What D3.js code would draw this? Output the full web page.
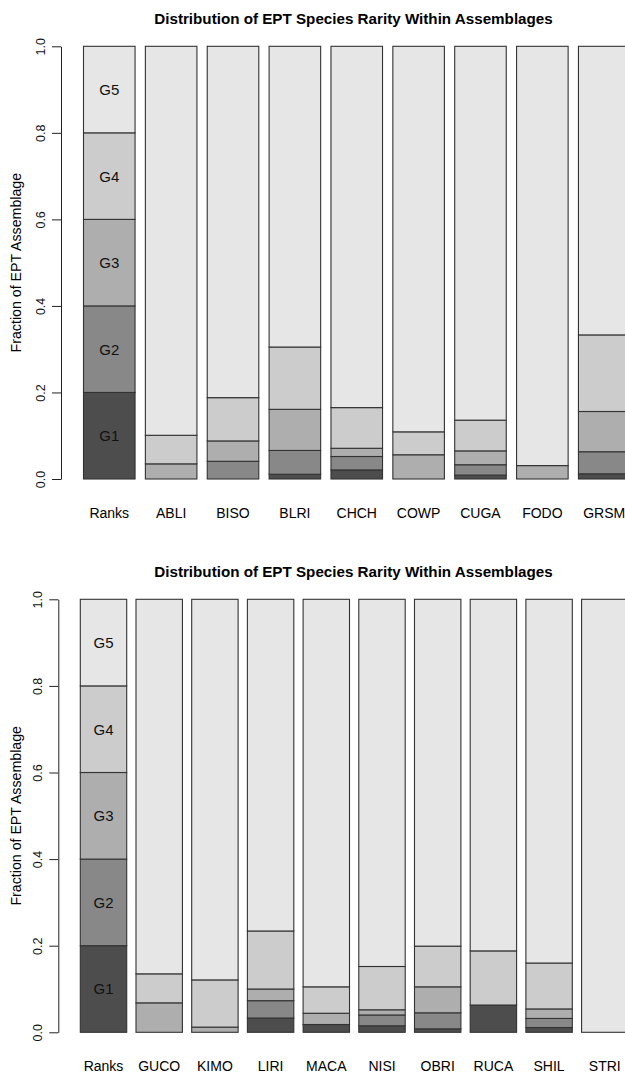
<!DOCTYPE html>
<html>
<head>
<meta charset="utf-8">
<script src="https://cdn.jsdelivr.net/npm/d3@7"></script>
<style>
  body { margin: 0; background: #fff; }
  svg { display: block; }
  text { font-family: "Liberation Sans", Arial, sans-serif; fill: #000; }
</style>
</head>
<body>
<div id="chart"></div>
<script>
var ranks = ["G1", "G2", "G3", "G4", "G5"];
var rankColors = ["#4d4d4d", "#888888", "#aeaeae", "#cccccc", "#e6e6e6"];

// first panel
var sitesA = ["Ranks", "ABLI", "BISO", "BLRI", "CHCH", "COWP", "CUGA", "FODO", "GRSM"];
var g1A = [0.2, 0,     0,     0.011, 0.021, 0,     0.009, 0,     0.012];
var g2A = [0.2, 0,     0.041, 0.055, 0.031, 0,     0.024, 0,     0.051];
var g3A = [0.2, 0.035, 0.047, 0.095, 0.019, 0.056, 0.032, 0.031, 0.093];
var g4A = [0.2, 0.066, 0.100, 0.144, 0.094, 0.053, 0.071, 0,     0.177];
var g5A = [0.2, 0.899, 0.812, 0.695, 0.835, 0.891, 0.864, 0.969, 0.667];

// second panel
var sitesB = ["Ranks", "GUCO", "KIMO", "LIRI", "MACA", "NISI", "OBRI", "RUCA", "SHIL", "STRI"];
var g1B = [0.2, 0,     0,     0.033, 0.018, 0.015, 0.008, 0.063, 0.011, 0];
var g2B = [0.2, 0,     0,     0.040, 0,     0.025, 0.037, 0,     0.021, 0];
var g3B = [0.2, 0.068, 0.012, 0.027, 0.026, 0.012, 0.060, 0,     0.022, 0];
var g4B = [0.2, 0.067, 0.109, 0.134, 0.061, 0.100, 0.094, 0.125, 0.106, 0];
var g5B = [0.2, 0.865, 0.879, 0.766, 0.895, 0.848, 0.801, 0.812, 0.840, 1];

var yTicks = [0, 0.2, 0.4, 0.6, 0.8, 1.0];
var titleText = "Distribution of EPT Species Rarity Within Assemblages";
var yLabel = "Fraction of EPT Assemblage";

var W = 625, H = 1073;

var svg = d3.select("#chart").append("svg")
    .attr("width", W)
    .attr("height", H);

function makeRows(sites, cols) {
  return sites.map(function(s, i) {
    var row = { site: s };
    ranks.forEach(function(r, k) { row[r] = cols[k][i]; });
    return row;
  });
}

function drawPanel(opt) {
  var rows = makeRows(opt.sites, opt.cols);
  var g = svg.append("g");

  var x = d3.scaleBand()
      .domain(opt.sites)
      .range([opt.x0, opt.x1])
      .paddingInner(1 / 6)
      .paddingOuter(0);

  var y = d3.scaleLinear()
      .domain([0, 1])
      .range([opt.yBottom, opt.yTop]);

  var stacked = d3.stack().keys(ranks)(rows);

  var layer = g.selectAll("g.layer")
      .data(stacked)
    .enter().append("g")
      .attr("class", "layer")
      .attr("fill", function(d, i) { return rankColors[i]; });

  layer.selectAll("rect")
      .data(function(d) { return d; })
    .enter().append("rect")
      .attr("x", function(d) { return x(d.data.site); })
      .attr("width", x.bandwidth())
      .attr("y", function(d) { return y(d[1]); })
      .attr("height", function(d) { return y(d[0]) - y(d[1]); })
      .attr("stroke", "#333")
      .attr("stroke-width", 1.1);

  // rank names inside the reference bar
  g.selectAll("text.rank")
      .data(stacked)
    .enter().append("text")
      .attr("class", "rank")
      .attr("x", x("Ranks") + x.bandwidth() / 2)
      .attr("y", function(d) { return y((d[0][0] + d[0][1]) / 2); })
      .attr("dy", "0.36em")
      .attr("text-anchor", "middle")
      .style("font-size", "15px")
      .style("fill", "#111")
      .text(function(d) { return d.key; });

  // y axis, R style
  var axis = d3.axisLeft(y)
      .tickValues(yTicks)
      .tickFormat(d3.format(".1f"))
      .tickSize(9)
      .tickSizeOuter(0);

  var ax = g.append("g")
      .attr("transform", "translate(" + opt.axisX + ",0)")
      .call(axis);
  ax.select(".domain").attr("stroke", "#222");
  ax.selectAll(".tick line").attr("stroke", "#222");
  ax.selectAll(".tick text")
      .attr("transform", "rotate(-90)")
      .attr("x", 0)
      .attr("y", -21)
      .attr("dy", "0.36em")
      .attr("text-anchor", "middle")
      .style("font-size", "12.5px")
      .style("font-family", "'Liberation Sans', Arial, sans-serif")
      .style("fill", "#111");

  // x labels
  g.selectAll("text.site")
      .data(opt.sites)
    .enter().append("text")
      .attr("class", "site")
      .attr("x", function(d) { return x(d) + x.bandwidth() / 2; })
      .attr("y", opt.labelY)
      .attr("text-anchor", "middle")
      .style("font-size", "14px")
      .text(function(d) { return d; });

  g.append("text")
      .attr("transform", "translate(16.5," + ((opt.yTop + opt.yBottom) / 2) + ") rotate(-90)")
      .attr("dy", "0.35em")
      .attr("text-anchor", "middle")
      .style("font-size", "14.2px")
      .text(yLabel);

  g.append("text")
      .attr("x", 353.5)
      .attr("y", opt.titleY)
      .attr("text-anchor", "middle")
      .style("font-size", "15.2px")
      .style("font-weight", "bold")
      .text(titleText);
}

drawPanel({
  sites: sitesA,
  cols: [g1A, g2A, g3A, g4A, g5A],
  x0: 83.5, x1: 630.0,
  yTop: 46.3, yBottom: 479,
  axisX: 61,
  labelY: 517.5,
  titleY: 23.7
});

drawPanel({
  sites: sitesB,
  cols: [g1B, g2B, g3B, g4B, g5B],
  x0: 80.3, x1: 628.0,
  yTop: 599.3, yBottom: 1032.3,
  axisX: 58.3,
  labelY: 1071,
  titleY: 576.7
});
</script>
</body>
</html>
